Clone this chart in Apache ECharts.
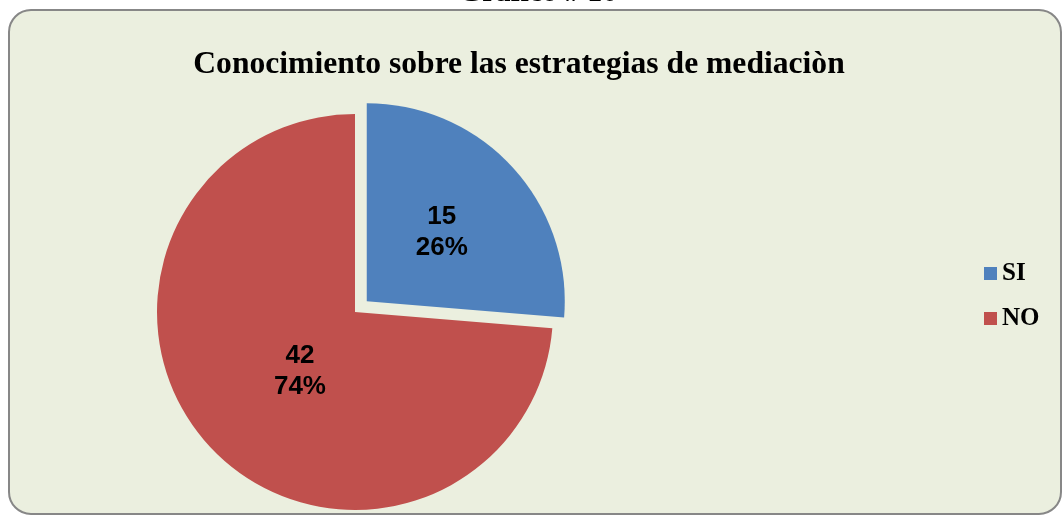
<!DOCTYPE html>
<html>
<head>
<meta charset="utf-8">
<script src="https://cdn.jsdelivr.net/npm/echarts@6/dist/echarts.min.js"></script>
<style>
  html, body { margin: 0; padding: 0; background: #ffffff; }
  #chart { width: 1062px; height: 515px; }
</style>
</head>
<body>
<div id="chart"></div>
<script>
const categories = ["SI", "NO"];
const counts = [15, 42];
const colors = ["#4f81bd", "#c0504d"];

const chart = echarts.init(document.getElementById("chart"));

// nudges so the inside labels sit where the reference has them
const labelPads = [[10, 0, 0, 0], [0, 0, 0, 0]];
const labelOffsets = [[0, 0], [20, -10]];

const pieData = categories.map((name, i) => ({
  name,
  value: counts[i],
  selected: i === 0,
  itemStyle: { color: colors[i] },
  label: { offset: labelOffsets[i], padding: labelPads[i] },
  select: { label: { offset: labelOffsets[i], padding: labelPads[i] } },
}));

const option = {
  backgroundColor: "#ffffff",
  animation: false,
  graphic: [
    {
      type: "rect",
      z: -10,
      shape: { x: 9, y: 10, width: 1052, height: 504, r: 22 },
      style: { fill: "#ebefdf", stroke: "#878787", lineWidth: 2 },
    },
    {
      type: "text",
      x: 538,
      y: 8,
      style: {
        text: "Gráfico # 10",
        font: "bold 30px 'Liberation Serif', serif",
        fill: "#000",
        align: "center",
        verticalAlign: "bottom",
      },
    },
  ],
  title: {
    text: "Conocimiento sobre las estrategias de mediaciòn",
    left: 514,
    top: 44,
    textAlign: "center",
    textStyle: {
      fontFamily: "'Liberation Serif', serif",
      fontWeight: "bold",
      fontSize: 31.6,
      color: "#000",
    },
  },
  legend: {
    orient: "vertical",
    left: 979,
    top: 256,
    itemWidth: 13,
    itemHeight: 13,
    itemGap: 20,
    selectedMode: false,
    icon: "rect",
    textStyle: {
      fontFamily: "'Liberation Serif', serif",
      fontWeight: "bold",
      fontSize: 25,
      color: "#000",
      padding: [0, 0, 0, 0],
    },
    data: categories,
  },
  series: [
    {
      type: "pie",
      center: [355, 312],
      radius: 198,
      startAngle: 90,
      clockwise: true,
      selectedMode: "single",
      selectedOffset: 16,
      emphasis: { disabled: true },
      label: {
        position: "inner",
        formatter: (p) => p.value + "\n" + Math.round(p.percent) + "%",
        fontFamily: "'Liberation Sans', Arial, sans-serif",
        fontWeight: "bold",
        fontSize: 26,
        lineHeight: 31,
        color: "#000",
      },
      labelLine: { show: false },
      data: pieData,
    },
  ],
};

chart.setOption(option);
</script>
</body>
</html>
